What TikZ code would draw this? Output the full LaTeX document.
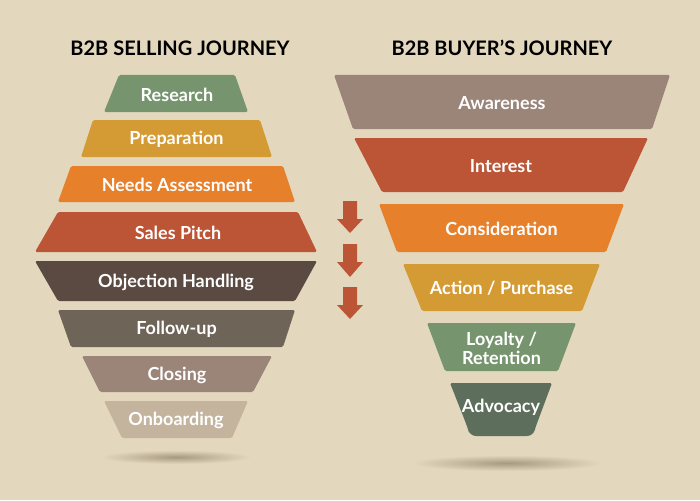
\documentclass[tikz,border=0pt]{standalone}
\usepackage{fontspec}
\setmainfont{Lato}
\definecolor{bg}{HTML}{E3D8BD}
\definecolor{cgreen}{HTML}{76956E}
\definecolor{cgold}{HTML}{D49A33}
\definecolor{corange}{HTML}{E6802A}
\definecolor{cred}{HTML}{BC5436}
\definecolor{cdark}{HTML}{5A4A42}
\definecolor{cgrey}{HTML}{6E6457}
\definecolor{ctaupe}{HTML}{9A8578}
\definecolor{csand}{HTML}{C4B49E}
\definecolor{cdkgreen}{HTML}{5E6E5C}
\definecolor{shadowc}{HTML}{A89A82}
\newcommand\seg[9]{%
  \fill[#8, rounded corners=1.5pt] (#4,#2) -- (#5,#2) -- (#7,#3) -- (#6,#3) -- cycle;
  \node[lbl] (#1) at ({(#4+#5)/2},{(#2+#3)/2+1}) {#9};
}
\newcommand\downarr[2]{%
  \fill[cred] (343,#1) -- (357,#1) -- (357,#1+18) -- (363,#1+18) -- (350,#2) -- (337,#1+18) -- (343,#1+18) -- cycle;
}
\tikzset{
  lbl/.style={text=white, font=\bfseries\fontsize{18}{19}\selectfont, align=center, inner sep=0pt},
  ttl/.style={text=black, font=\bfseries\fontsize{20}{22}\selectfont, inner sep=0pt}
}
\begin{document}
\begin{tikzpicture}[x=1pt,y=-1pt]
\fill[bg] (0,0) rectangle (700,500);
\useasboundingbox (0,0) rectangle (700,500);
% shadows
\shade[inner color=shadowc, outer color=bg] (176,457) ellipse (75 and 7);
\shade[inner color=shadowc, outer color=bg] (507,463) ellipse (95 and 8);
% titles
\node[ttl] (t1) at (180,48) {B2B SELLING JOURNEY};
\node[ttl] (t2) at (502,48) {B2B BUYER’S JOURNEY};
% left stack
\seg{research}{75}{112}{119}{235}{104}{248}{cgreen}{Research}
\seg{prep}{120}{157}{93}{260}{81}{272}{cgold}{Preparation}
\seg{needs}{166}{202}{71}{283}{58}{295}{corange}{Needs Assessment}
\seg{pitch}{212}{252}{58}{298}{35}{317}{cred}{Sales Pitch}
\seg{object}{261}{301}{35}{317}{58}{295}{cdark}{Objection Handling}
\seg{follow}{310}{347}{58}{295}{71}{283}{cgrey}{Follow-up}
\seg{closing}{356}{392}{82}{272}{100}{253}{ctaupe}{Closing}
\seg{onboard}{401}{438}{104}{248}{122}{232}{csand}{Onboarding}
% right funnel
\seg{aware}{75}{129}{334}{670}{353}{652}{ctaupe}{Awareness}
\seg{interest}{138}{192}{354}{648}{382}{623}{cred}{Interest}
\seg{consider}{204}{252}{379}{624}{397}{606}{corange}{Consideration}
\seg{action}{264}{311}{403}{600}{422}{582}{cgold}{Action / Purchase}
\seg{loyal}{323}{371}{427}{576}{445}{558}{cgreen}{Loyalty /\\Retention}
\fill[cdkgreen, rounded corners=1.5pt] (450,383) -- (552,383) -- (536,426) [rounded corners=6pt] -- (533,436) -- (470,436) -- (467,426) [rounded corners=1.5pt] -- cycle;
\node[lbl] (advocacy) at (501,407) {Advocacy};
% arrows
\downarr{201}{233}
\downarr{244}{277}
\downarr{287}{319}
\end{tikzpicture}
\end{document}
